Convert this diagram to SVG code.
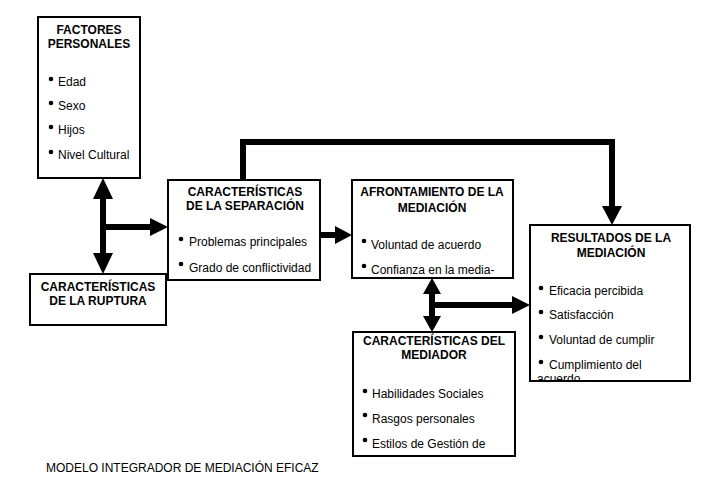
<svg xmlns="http://www.w3.org/2000/svg" width="713" height="495" viewBox="0 0 713 495">
<style>
.box{fill:#fff;stroke:#000;stroke-width:2}
.t{font-family:"Liberation Sans",Arial,sans-serif;font-weight:bold;font-size:12px;text-anchor:middle;fill:#000}
.i{font-family:"Liberation Sans",Arial,sans-serif;font-size:12px;fill:#000}
.c{stroke:#000;stroke-width:6;fill:none}
.h{fill:#000}
circle{fill:#000}
</style>
<defs>
<clipPath id="clipRes"><rect x="530" y="225" width="160" height="155"/></clipPath>
</defs>
<g id="connectors">
<line class="c" x1="103" y1="195" x2="103" y2="258"/>
<polygon class="h" points="103,178 93,199 113,199"/>
<polygon class="h" points="103,274 93,253 113,253"/>
<line class="c" x1="103" y1="227" x2="153" y2="227"/>
<polygon class="h" points="168,227 150,218 150,236"/>
<polyline class="c" points="243,180 243,142 612,142 612,208"/>
<polygon class="h" points="612,225 602,206 622,206"/>
<line class="c" x1="320" y1="235" x2="338" y2="235"/>
<polygon class="h" points="352,235 335,226 335,244"/>
<line class="c" x1="432" y1="292" x2="432" y2="318"/>
<polygon class="h" points="432,278 423,294 441,294"/>
<polygon class="h" points="432,332 423,316 441,316"/>
<line class="c" x1="432" y1="305" x2="514" y2="305"/>
<polygon class="h" points="530,305 512,296 512,314"/>
</g>
<g id="factores">
<rect class="box" x="38" y="17" width="102" height="161"/>
<text class="t" x="89" y="34">FACTORES</text>
<text class="t" x="89" y="48">PERSONALES</text>
<circle cx="51" cy="79" r="2.3"/><text class="i" x="58" y="86">Edad</text>
<circle cx="51" cy="103" r="2.3"/><text class="i" x="58" y="110">Sexo</text>
<circle cx="51" cy="127" r="2.3"/><text class="i" x="58" y="134">Hijos</text>
<circle cx="51" cy="152" r="2.3"/><text class="i" x="58" y="159">Nivel Cultural</text>
</g>
<g id="ruptura">
<rect class="box" x="30" y="274" width="136" height="51"/>
<text class="t" x="98" y="291">CARACTERÍSTICAS</text>
<text class="t" x="98" y="305">DE LA RUPTURA</text>
</g>
<g id="separacion">
<rect class="box" x="168" y="180" width="152" height="100"/>
<text class="t" x="245" y="196">CARACTERÍSTICAS</text>
<text class="t" x="245" y="210">DE LA SEPARACIÓN</text>
<circle cx="181" cy="239" r="2.3"/><text class="i" x="189" y="246">Problemas principales</text>
<circle cx="181" cy="264" r="2.3"/><text class="i" x="189" y="272">Grado de conflictividad</text>
</g>
<g id="afrontamiento">
<rect class="box" x="352" y="180" width="161" height="98"/>
<text class="t" x="432" y="196">AFRONTAMIENTO DE LA</text>
<text class="t" x="432" y="212">MEDIACIÓN</text>
<circle cx="364" cy="241" r="2.3"/><text class="i" x="371" y="249">Voluntad de acuerdo</text>
<circle cx="364" cy="266" r="2.3"/><text class="i" x="371" y="274">Confianza en la media-</text>
</g>
<g id="resultados">
<rect class="box" x="530" y="225" width="160" height="156"/>
<text class="t" x="611" y="242">RESULTADOS DE LA</text>
<text class="t" x="611" y="257">MEDIACIÓN</text>
<g clip-path="url(#clipRes)">
<circle cx="541" cy="288" r="2.3"/><text class="i" x="549" y="295">Eficacia percibida</text>
<circle cx="541" cy="312" r="2.3"/><text class="i" x="549" y="319">Satisfacción</text>
<circle cx="541" cy="337" r="2.3"/><text class="i" x="549" y="344">Voluntad de cumplir</text>
<circle cx="541" cy="362" r="2.3"/><text class="i" x="549" y="369">Cumplimiento del</text>
<text class="i" x="537" y="383">acuerdo</text>
</g>
</g>
<g id="mediador">
<rect class="box" x="353" y="332" width="162" height="124"/>
<text class="t" x="434" y="345">CARACTERÍSTICAS DEL</text>
<text class="t" x="434" y="359">MEDIADOR</text>
<circle cx="365" cy="391" r="2.3"/><text class="i" x="372" y="398">Habilidades Sociales</text>
<circle cx="365" cy="415" r="2.3"/><text class="i" x="372" y="423">Rasgos personales</text>
<circle cx="365" cy="440" r="2.3"/><text class="i" x="372" y="448">Estilos de Gestión de</text>
</g>
<text class="i" x="46" y="472">MODELO INTEGRADOR DE MEDIACIÓN EFICAZ</text>
</svg>
